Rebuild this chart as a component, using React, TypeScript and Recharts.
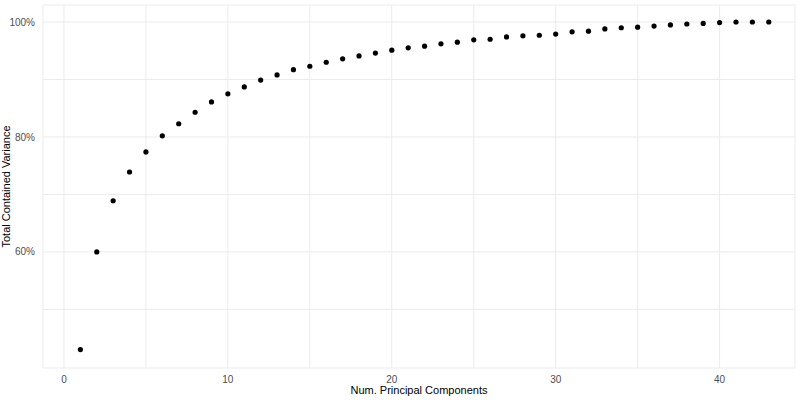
import React from "react";
import { ScatterChart, Scatter, XAxis, YAxis, CartesianGrid, Label } from "recharts";

const components = Array.from({ length: 43 }, (_, i) => i + 1);
const variance = [
  43.0, 60.0, 68.9, 73.9, 77.4, 80.2, 82.3, 84.3, 86.1, 87.5,
  88.7, 89.9, 90.8, 91.7, 92.3, 93.0, 93.6, 94.1, 94.6, 95.1,
  95.5, 95.8, 96.2, 96.5, 96.9, 97.0, 97.4, 97.6, 97.7, 97.9,
  98.3, 98.4, 98.8, 99.0, 99.1, 99.3, 99.5, 99.65, 99.75, 99.9,
  100.0, 100.0, 100.0,
];
const xTicks = [0, 5, 10, 15, 20, 25, 30, 35, 40];
const yTicks = [50, 60, 70, 80, 90, 100];

const data = components.map((c, i) => ({ x: c, y: variance[i] }));

const font = "Liberation Sans, DejaVu Sans, sans-serif";

export default function App() {
  return (
    <div style={{ position: "absolute", left: 0, top: 0, width: 800, height: 400, background: "#fff", fontFamily: font }}>
      <ScatterChart width={800} height={400} margin={{ top: 5, right: 5, bottom: 0, left: 0 }}>
        <CartesianGrid stroke="#ebebeb" strokeWidth={1} />
        <XAxis
          type="number"
          dataKey="x"
          domain={[-1.28, 44.6]}
          ticks={xTicks}
          tickFormatter={(v) => (v % 10 === 0 ? String(v) : "")}
          axisLine={false}
          tickLine={false}
          height={32}
          tick={{ fontSize: 10, fill: "#4d4d4d", fontFamily: font }}
        >
          <Label value="Num. Principal Components" position="insideBottom" offset={6} style={{ fontSize: 11, fill: "#000", fontFamily: font }} />
        </XAxis>
        <YAxis
          type="number"
          dataKey="y"
          domain={[39.8, 102.96]}
          ticks={yTicks}
          tickFormatter={(v) => (v % 20 === 0 ? `${v}%` : "")}
          axisLine={false}
          tickLine={false}
          width={43}
          tick={{ fontSize: 10, fill: "#4d4d4d", fontFamily: font }}
        >
          <Label value="Total Contained Variance" angle={-90} position="insideLeft" offset={6} style={{ fontSize: 11, fill: "#000", fontFamily: font, textAnchor: "middle" }} />
        </YAxis>
        <Scatter data={data} fill="#000" isAnimationActive={false} shape={(p: any) => <circle cx={p.cx} cy={p.cy} r={2.6} fill="#000" />} />
      </ScatterChart>
    </div>
  );
}
